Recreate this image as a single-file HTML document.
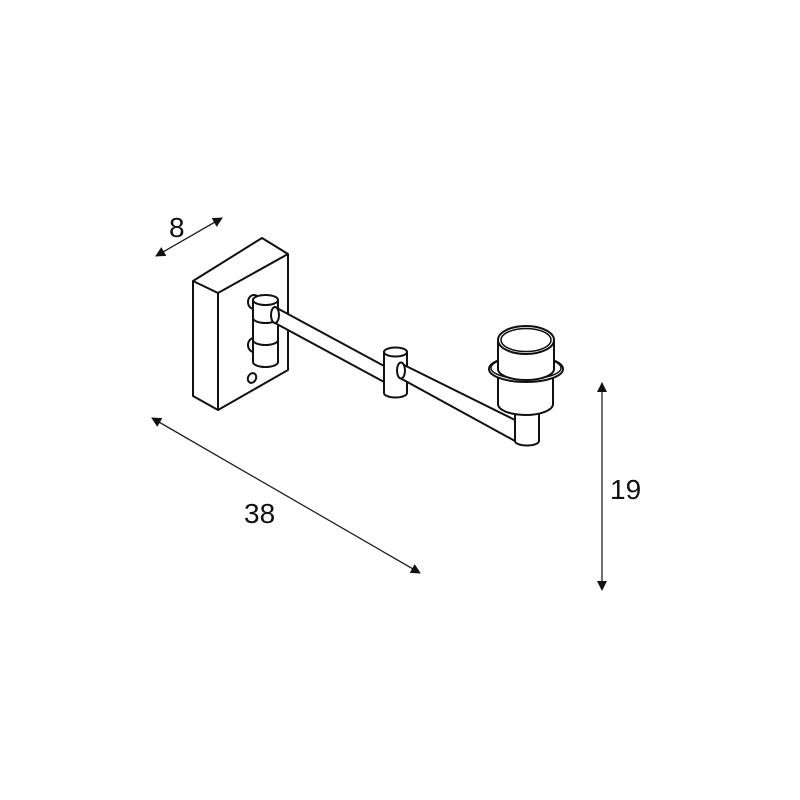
<!DOCTYPE html>
<html><head><style>body{margin:0;background:#fff}svg{display:block}</style></head>
<body>
<svg width="800" height="800" viewBox="0 0 800 800" xmlns="http://www.w3.org/2000/svg">
<defs>
<marker id="a" viewBox="0 0 10 10" refX="9" refY="5" markerWidth="11" markerHeight="10" orient="auto-start-reverse" markerUnits="userSpaceOnUse"><path d="M0,0L10,5L0,10z" fill="#111"/></marker>
</defs>
<g fill="#fff" stroke="#111" stroke-width="2" stroke-linejoin="round">
<path d="M193,281 L262,238 L288,254 L288,370 L218,410 L193,396 Z"/>
<path d="M193,281 L218,293 L288,254 M218,293 L218,410" fill="none"/>
<ellipse cx="254" cy="302" rx="6" ry="7"/>
<ellipse cx="254" cy="345" rx="6" ry="7"/>
<path d="M253,300 L253,362 A12.5,5 0 0 0 278,362 L278,300 Z"/>
<path d="M253,318 A12.5,5 0 0 0 278,318 M253,340 A12.5,5 0 0 0 278,340" fill="none"/>
<ellipse cx="265.5" cy="300" rx="12.5" ry="5"/>
<ellipse cx="252" cy="378" rx="4" ry="5" transform="rotate(25 252 378)"/>
<path d="M275,307 L386,367 L386,383 L275,323 Z"/>
<ellipse cx="275" cy="315" rx="4" ry="8"/>
<path d="M384,352 L384,393 A11.5,4.5 0 0 0 407,393 L407,352 Z"/>
<ellipse cx="395.5" cy="352" rx="11.5" ry="4.5"/>
<path d="M400,363 L515,420 L515,441 L400,378 Z"/>
<ellipse cx="401" cy="370.5" rx="4" ry="8"/>
<path d="M515,395 L515,441 A12,4.5 0 0 0 539,441 L539,395 Z"/>
<path d="M498,368 L498,404 A27.5,11 0 0 0 553,404 L553,368 Z"/>
<ellipse cx="526" cy="369" rx="37" ry="13"/>
<ellipse cx="526" cy="368" rx="35" ry="11" fill="none" stroke-width="1.5"/>
<path d="M498,340 L498,369 A28,11 0 0 0 554,369 L554,340 Z"/>
<ellipse cx="526" cy="340" rx="28" ry="14"/>
<ellipse cx="526" cy="340" rx="25" ry="11.5" fill="none" stroke-width="1.5"/>
</g>
<g stroke="#222" stroke-width="1.3" fill="none">
<line x1="156" y1="256" x2="222" y2="218" marker-start="url(#a)" marker-end="url(#a)"/>
<line x1="152" y1="418" x2="420" y2="573" marker-start="url(#a)" marker-end="url(#a)"/>
<line x1="602" y1="383" x2="602" y2="590" marker-start="url(#a)" marker-end="url(#a)"/>
</g>
<g font-family="Liberation Sans, sans-serif" font-size="28" fill="#111">
<text x="169" y="237">8</text>
<text x="244" y="523">38</text>
<text x="610" y="499">19</text>
</g>
</svg>
</body></html>
